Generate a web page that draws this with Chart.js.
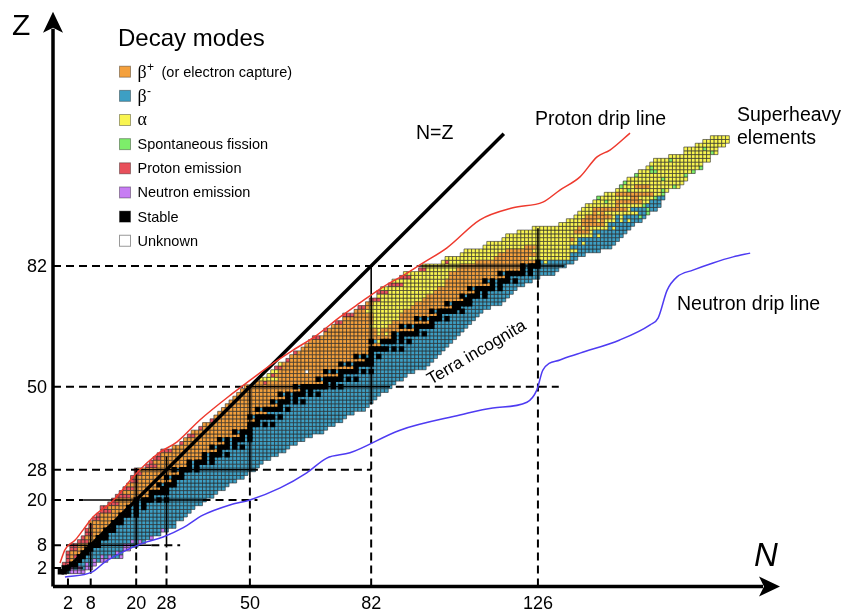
<!DOCTYPE html>
<html>
<head>
<meta charset="utf-8">
<script src="https://cdn.jsdelivr.net/npm/chart.js@4.4.1/dist/chart.umd.min.js"></script>
<style>
  html, body { margin: 0; padding: 0; background: #fff; }
</style>
</head>
<body>
<canvas id="nuclides" width="841" height="611"></canvas>
<script>
// rows of the chart, index = Z - 1
const firstN = [0,1,1,2,2,2,3,3,5,6, 7,7,8,8,9,10,11,11,13,14, 15,16,17,18,19,19,20,20,23,24,
  25,26,27,30,32,33,34,35,37,38, 40,41,42,43,44,45,46,47,48,49, 52,53,55,56,57,58,60,61,62,64,
  65,66,67,70,70,72,73,75,75,78, 79,81,82,84,84,85,87,88,90,91, 95,96,101,102,106,107,112,113,117,118,
  121,125,132,134,136,137,138,139,141,142, 144,147,148,149,150,152,153,155,156,157, 161,165,165,168,170,172];
const lastN = [6,8,9,12,16,16,18,20,22,24, 26,28,30,30,32,33,34,35,37,38, 40,41,43,44,46,48,49,51,52,53,
  55,57,59,60,62,64,66,69,70,72, 74,75,77,80,81,82,83,84,86,87, 88,90,91,93,96,97,98,99,100,101,
  102,103,104,105,106,107,108,109,110,111, 113,116,117,118,119,120,122,124,126,130, 131,133,135,136,138,142,145,146,147,148,
  149,150,151,153,154,155,157,158,158,159, 159,160,163,164,165,165,167,169,169,171, 171,173,173,175,176,176];
// first neutron number on the beta-minus side of each row
const betaFrom = [0,1,3,5,5,6,7,8,10,10, 12,12,14,14,16,16,18,18,20,20, 24,24,27,26,30,28,32,30,34,34,
  38,38,42,40,44,42,48,46,50,50, 52,50,55,52,58,56,60,58,64,62, 70,68,74,70,78,74,81,78,82,82,
  85,82,88,88,94,90,98,94,100,98, 104,102,107,106,110,108,114,112,118,116, 122,122,126,135,135,137,135,137,137,141,
  141,145,145,147,147,153,151,155,156,158, 159,161,164,165,166,166,168,170,170,172, 172,174,174,176,177,177];
const stableN = [[0,1],[1,2],[3,4],[5],[5,6],[6,7],[7,8],[8,9,10],[10],[10,11,12],
  [12],[12,13,14],[14],[14,15,16],[16],[16,17,18,20],[18,20],[18,20,22],[20,22],[20,22,23,24,26,28],
  [24],[24,25,26,27,28],[27,28],[26,28,29,30],[30],[28,30,31,32],[32],[30,32,33,34,36],[34,36],[34,36,37,38,40],
  [38,40],[38,40,41,42,44],[42],[40,42,43,44,46,48],[44,46],[42,44,46,47,48,50],[48,50],[46,48,49,50],[50],[50,51,52,54,56],
  [52],[50,52,53,54,55,56,58],[],[52,54,55,56,57,58,60],[58],[56,58,59,60,62,64],[60,62],[58,60,62,63,64,66,68],[64,66],[62,64,65,66,67,68,69,70,72,74],
  [70,72],[68,70,71,72,73,74,76,78],[74],[70,72,74,75,76,77,78,80,82],[78],[74,76,78,79,80,81,82],[81,82],[78,80,82,84],[82],[82,83,84,85,86,88,90],
  [],[82,85,86,87,88,90,92],[88,90],[88,90,91,92,93,94,96],[94],[90,92,94,95,96,97,98],[98],[94,96,98,99,100,102],[100],[98,100,101,102,103,104,106],
  [104,105],[102,104,105,106,107,108],[107,108],[106,108,109,110,112],[110,112],[108,110,111,112,113,114,116],[114,116],[112,114,116,117,118,120],[118],[116,118,119,120,121,122,124],
  [122,124],[122,124,125,126],[126]];
// [Z, first N, last N] runs that decay by alpha emission
const alphaBands = [[4,4,4],[52,53,57],[53,55,55],[54,56,57],[56,58,58],
  [62,84,84],[64,84,84],[64,86,86],[65,84,84],[66,82,86],[67,83,87],[68,83,89],[69,83,89],[70,81,90],[71,82,92],[72,83,93],[73,85,95],
  [74,84,96],[75,87,98],[76,85,99],[77,91,101],[78,88,101],[79,93,102],[80,91,102],[81,97,104],[82,96,105],
  [83,101,109],[83,128,128],[84,102,114],[84,124,134],[85,106,115],[85,126,134],[86,107,117],[86,125,136],
  [87,112,122],[87,126,134],[88,113,136],[88,138,138],[89,117,134],[89,136,136],[90,118,140],[90,142,142],
  [91,121,135],[91,140,140],[92,125,136],[92,138,138],[92,140,144],[92,146,146],[93,132,137],[93,144,144],
  [94,134,137],[94,142,142],[94,144,146],[94,148,148],[94,150,150],[95,136,138],[95,146,146],[95,148,148],
  [96,137,140],[96,142,142],[96,144,152],[97,138,140],[97,150,150],[98,139,146],[98,148,154],
  [99,141,146],[99,154,155],[100,142,150],[100,153,157],[101,144,146],[101,157,158],[102,147,160],
  [103,148,151],[103,156,163],[104,149,164],[105,150,165],[106,152,165],[107,153,167],[108,155,169],
  [109,156,169],[110,157,171],[111,161,171],[112,165,173],[113,165,173],[114,168,175],[115,170,176],[116,172,176]];
// single nuclides [N, Z]
const protonCells = [[1,3],[2,3],[2,4],[2,5],[4,5],[2,6],[3,7],[4,7],[3,8],[4,8],[5,9],[6,9],[7,9],[6,10],
  [7,11],[8,11],[7,12],[8,13],[9,15],[10,15],[10,16],[11,17],[12,17],[13,17],[11,18],[12,18],[13,19],[14,19],[15,19],
  [14,20],[15,21],[16,21],[17,21],[18,21],[16,22],[17,23],[18,23],[19,23],[19,25],[20,25],[19,26],[20,27],[21,27],[20,28],
  [23,29],[24,29],[25,29],[24,30],[25,31],[26,31],[26,32],[27,33],[28,33],[29,33],[32,35],[34,37],[35,37],[37,39],[40,41],
  [54,51],[56,53],[57,55],[58,55],[60,57],[62,59],[67,63],[68,63],[70,65],[73,67],[74,67],[75,69],[76,69],[77,69],
  [79,71],[80,71],[82,73],[83,73],[84,73],[84,75],[85,75],[86,75],[87,77],[88,77],[89,77],[90,77],[90,79],[91,79],[92,79],
  [95,81],[96,81],[102,83]];
const neutronCells = [[3,1],[4,1],[5,1],[6,1],[3,2],[5,2],[7,2],[8,2],[7,3],[9,3],[9,4],[11,4],[12,4],[11,5],[13,5],[16,5],
  [15,6],[17,7],[18,7],[17,8],[18,8],[19,9],[21,9],[24,10],[27,12]];
const fissionCells = [[142,100],[144,99],[148,103],[149,104],[150,102],[152,106],[156,107],[156,108],[157,107],[161,110],
  [169,108],[167,107],[165,106],[162,103],[159,101],[159,102],[157,100],[155,96],[155,97],[154,98],[153,95],[159,105],[170,113],[172,112]];
const unknownCells = [[65,54]];

const shellN = [2, 8, 20, 28, 50, 82, 126];
const shellNSolid = [[0.5, 3], [0.5, 14], [7, 28.5], [7.5, 31.5], [26, 50], [46, 82], [78, 92]];
const shellZ = [2, 8, 20, 28, 50, 82];
const shellZSolid = [[0.5, 6], [2.5, 24], [6, 37.5], [19.7, 50], [49, 87], [94, 133]];
const shellZTail = [null, [24, 31.6], [37.5, 52], [50, 82], [88.5, 131.5], null];

const protonDripN = [-0.1,1.2,3.9,6.0,8.6,13.6,16.3,19.2,22.8,26.3,30.8,36.8,45.5,50.0,56.1,61.4,67.7,73.8,79.0,85.1,91.5,95.7,102.0,110.7,119.4,127.3,131.8,137.1,141.6,145.0,150.3];
const protonDripZ = [3.3,6.8,9.4,12.1,15.5,19.5,22.6,26.1,29.8,32.7,35.4,41.2,48.3,51.7,56.2,59.7,63.7,68.5,72.2,76.4,80.1,82.8,86.8,94.2,97.4,98.9,102.1,105.6,110.9,112.7,117.2];
const neutronDripN = [1.2,8.3,11.8,17.6,22.8,27.1,32.3,37.6,44.7,50.0,58.0,65.0,70.3,76.4,89.6,105.4,114.1,123.1,125.7,127.3,131.8,137.1,147.6,155.6,157.7,160.1,162.7,166.9,172.2,177.5,182.0];
const neutronDripZ = [-0.4,0.9,3.6,6.8,8.9,10.2,12.6,16.0,18.7,20.0,23.2,27.2,31.1,32.5,38.5,42.5,44.4,45.9,49.1,54.4,57.1,58.9,62.4,66.4,68.2,75.6,79.1,80.9,82.8,84.4,85.4];

const modes = ['plus', 'minus', 'alpha', 'fission', 'proton', 'neutron', 'stable', 'unknown'];
const modeColor = {
  plus: '#F4A03C', minus: '#3D9FC4', alpha: '#F9F550', fission: '#7DEE6A',
  proton: '#E8505B', neutron: '#C77DF3', stable: '#000000', unknown: '#FFFFFF'
};
const modeLabel = {
  plus: '(or electron capture)', minus: '', alpha: '', fission: 'Spontaneous fission',
  proton: 'Proton emission', neutron: 'Neutron emission', stable: 'Stable', unknown: 'Unknown'
};

const key = (n, z) => n + ':' + z;
const special = new Map();
protonCells.forEach(([n, z]) => special.set(key(n, z), 'proton'));
neutronCells.forEach(([n, z]) => special.set(key(n, z), 'neutron'));
fissionCells.forEach(([n, z]) => special.set(key(n, z), 'fission'));
unknownCells.forEach(([n, z]) => special.set(key(n, z), 'unknown'));

const cells = {};
modes.forEach(m => cells[m] = []);
for (let z = 1; z <= firstN.length; z++) {
  const stable = stableN[z - 1] || [];
  for (let n = firstN[z - 1]; n <= lastN[z - 1]; n++) {
    let mode;
    if (stable.includes(n)) mode = 'stable';
    else if (special.has(key(n, z))) mode = special.get(key(n, z));
    else if (alphaBands.some(([bz, a, b]) => bz === z && n >= a && n <= b)) mode = 'alpha';
    else mode = n >= betaFrom[z - 1] ? 'minus' : 'plus';
    cells[mode].push({ x: n, y: z });
  }
}

// square side = one unit on the N axis
const cellRadius = (c) => {
  const sx = c.chart.scales.x;
  return Math.abs(sx.getPixelForValue(1) - sx.getPixelForValue(0)) / (2 * Math.SQRT1_2);
};

// stable cells drawn last so the black staircase sits on top of its neighbours
const datasets = modes.map(m => ({
  label: m,
  data: cells[m],
  pointStyle: 'rect',
  pointRadius: cellRadius,
  backgroundColor: modeColor[m],
  borderColor: m === 'stable' ? '#000' : 'rgba(35,35,35,0.85)',
  borderWidth: m === 'stable' ? 1.6 : 0.7,
  order: m === 'stable' ? 9 : 10
}));

const X_MIN = -1.95, X_MAX = 189.87, Y_MIN = -2.91, Y_MAX = 149.35;
function seg(points, extra) {
  return Object.assign({ data: points, showLine: true, pointRadius: 0, borderColor: '#000',
    borderWidth: 1.6, fill: false, order: 4 }, extra);
}
const dash = { borderDash: [8, 5], borderWidth: 2 };

shellZ.forEach((z, i) => {
  const [a, b] = shellZSolid[i];
  datasets.push(seg([{ x: X_MIN, y: z }, { x: a, y: z }], dash));
  datasets.push(seg([{ x: a, y: z }, { x: b, y: z }]));
  if (shellZTail[i]) datasets.push(seg([{ x: shellZTail[i][0], y: z }, { x: shellZTail[i][1], y: z }], dash));
});
shellN.forEach((n, i) => {
  const [a, b] = shellNSolid[i];
  datasets.push(seg([{ x: n, y: Y_MIN }, { x: n, y: a }], dash));
  datasets.push(seg([{ x: n, y: a }, { x: n, y: b }]));
});

// N = Z
datasets.push(seg([{ x: 0.5, y: 0.5 }, { x: 117, y: 117 }], { borderWidth: 3.5, order: 2 }));

datasets.push(seg(protonDripN.map((n, i) => ({ x: n, y: protonDripZ[i] })),
  { borderColor: '#EE3A2E', borderWidth: 1.5, cubicInterpolationMode: 'monotone', order: 1 }));
datasets.push(seg(neutronDripN.map((n, i) => ({ x: n, y: neutronDripZ[i] })),
  { borderColor: '#4E3BF2', borderWidth: 1.5, cubicInterpolationMode: 'monotone', order: 1 }));

// notched arrow head, 20 px long, 20 px wide
function arrow(ctx, tipX, tipY, dir) {
  ctx.beginPath();
  if (dir === 'up') {
    ctx.moveTo(tipX, tipY);
    ctx.lineTo(tipX - 10, tipY + 21);
    ctx.lineTo(tipX, tipY + 16);
    ctx.lineTo(tipX + 10, tipY + 21);
  } else {
    ctx.moveTo(tipX, tipY);
    ctx.lineTo(tipX - 21, tipY - 10);
    ctx.lineTo(tipX - 16, tipY);
    ctx.lineTo(tipX - 21, tipY + 10);
  }
  ctx.closePath();
  ctx.fill();
}

const decor = {
  id: 'decor',
  afterDraw(chart) {
    const { ctx, chartArea: area, scales: { x, y } } = chart;
    const sans = '"Liberation Sans", Arial, Helvetica, sans-serif';
    const serif = '"Liberation Serif", "Times New Roman", serif';
    ctx.save();
    ctx.fillStyle = '#000';
    ctx.strokeStyle = '#000';

    // axes
    ctx.lineWidth = 3.5;
    ctx.beginPath();
    ctx.moveTo(area.left, area.bottom);
    ctx.lineTo(area.left, area.top + 17);
    ctx.moveTo(area.left, area.bottom);
    ctx.lineTo(area.right - 17, area.bottom);
    ctx.stroke();
    arrow(ctx, area.left, area.top, 'up');
    arrow(ctx, area.right, area.bottom, 'right');

    ctx.font = '30px ' + sans;
    ctx.textAlign = 'left';
    ctx.textBaseline = 'alphabetic';
    ctx.fillText('Z', 12, 35);
    ctx.font = 'italic 33px ' + sans;
    ctx.fillText('N', 754, 566);

    // tick labels at the magic numbers
    ctx.font = '18px ' + sans;
    ctx.textBaseline = 'middle';
    ctx.textAlign = 'right';
    shellZ.forEach(z => ctx.fillText(String(z), area.left - 6, y.getPixelForValue(z) + 1));
    ctx.textAlign = 'center';
    shellN.forEach(n => ctx.fillText(String(n), x.getPixelForValue(n), 604));

    // legend
    ctx.textAlign = 'left';
    ctx.textBaseline = 'alphabetic';
    ctx.font = '24px ' + sans;
    ctx.fillText('Decay modes', 118, 46);
    modes.forEach((m, i) => {
      const cy = 71.7 + i * 24.15;
      ctx.fillStyle = modeColor[m];
      ctx.fillRect(119.5, cy - 5.5, 11, 11);
      ctx.lineWidth = 1;
      ctx.strokeStyle = m === 'unknown' ? '#999' : 'rgba(0,0,0,0.35)';
      ctx.strokeRect(119.5, cy - 5.5, 11, 11);
      ctx.fillStyle = '#000';
      const base = cy + 5;
      if (m === 'plus' || m === 'minus') {
        ctx.font = '18px ' + serif;
        ctx.fillText('\u03B2', 137.5, base + 1);
        ctx.font = '12px ' + sans;
        ctx.fillText(m === 'plus' ? '+' : '-', 147, base - 6);
        if (m === 'plus') {
          ctx.font = '14.5px ' + sans;
          ctx.fillText(modeLabel[m], 161.5, base);
        }
      } else if (m === 'alpha') {
        ctx.font = '18px ' + serif;
        ctx.fillText('\u03B1', 137.5, base);
      } else {
        ctx.font = '14.5px ' + sans;
        ctx.fillText(modeLabel[m], 137.5, base);
      }
    });

    // annotations
    ctx.font = '19.5px ' + sans;
    ctx.fillText('N=Z', 416, 139);
    ctx.fillText('Proton drip line', 535, 125);
    ctx.fillText('Superheavy', 737, 121);
    ctx.fillText('elements', 737, 143.5);
    ctx.fillText('Neutron drip line', 677, 310);

    ctx.translate(431, 385);
    ctx.rotate(-30.4 * Math.PI / 180);
    ctx.font = '17px ' + sans;
    ctx.fillText('Terra incognita', 0, 0);
    ctx.restore();
  }
};

new Chart(document.getElementById('nuclides'), {
  type: 'scatter',
  data: { datasets },
  options: {
    responsive: false,
    animation: false,
    events: [],
    layout: { padding: { left: 53, right: 61, top: 11.7, bottom: 24.5 } },
    plugins: { legend: { display: false }, tooltip: { enabled: false } },
    scales: {
      x: { type: 'linear', min: X_MIN, max: X_MAX, display: false },
      y: { type: 'linear', min: Y_MIN, max: Y_MAX, display: false }
    }
  },
  plugins: [decor]
});
</script>
</body>
</html>
